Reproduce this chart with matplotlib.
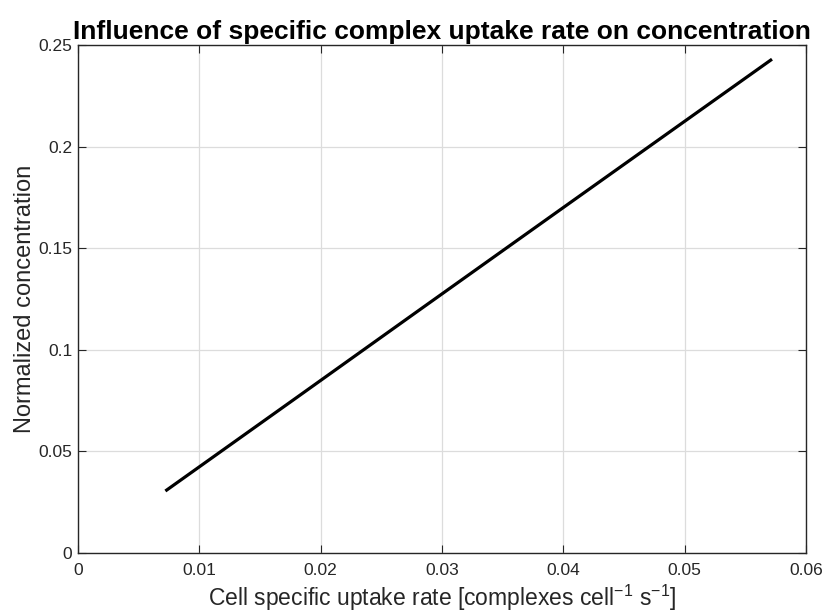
import matplotlib
matplotlib.use("Agg")
import matplotlib.pyplot as plt

# Cell specific uptake rate vs. normalized concentration
uptake_rate = [0.0072, 0.0180, 0.0280, 0.0400, 0.0572]
norm_conc = [0.0305, 0.0764, 0.1190, 0.1700, 0.2430]

x_ticks = [0, 0.01, 0.02, 0.03, 0.04, 0.05, 0.06]
x_tick_labels = ["0", "0.01", "0.02", "0.03", "0.04", "0.05", "0.06"]
y_ticks = [0, 0.05, 0.1, 0.15, 0.2, 0.25]
y_tick_labels = ["0", "0.05", "0.1", "0.15", "0.2", "0.25"]

plt.rcParams["font.family"] = ["Liberation Sans", "DejaVu Sans"]
plt.rcParams["mathtext.fontset"] = "custom"
plt.rcParams["mathtext.rm"] = "Liberation Sans"

fig = plt.figure(figsize=(8.22, 6.16), dpi=100)
ax = fig.add_axes([0.0949, 0.1023, 0.8856, 0.8247])

ax.plot(uptake_rate, norm_conc, color="black", linewidth=2.3, solid_capstyle="butt")

ax.set_xlim(0, 0.06)
ax.set_ylim(0, 0.25)
ax.set_xticks(x_ticks)
ax.set_xticklabels(x_tick_labels)
ax.set_yticks(y_ticks)
ax.set_yticklabels(y_tick_labels)

ax.grid(True, color="#dcdcdc", linewidth=0.9)
ax.set_axisbelow(True)
ax.tick_params(direction="in", top=True, right=True, length=6, width=0.8,
               labelsize=12.5, colors="#262626", labelcolor="#262626")
ax.tick_params(axis="x", pad=7.5)
ax.tick_params(axis="y", pad=4)
for s in ax.spines.values():
    s.set_color("#262626")
    s.set_linewidth(1.0)

ax.set_title("Influence of specific complex uptake rate on concentration",
             fontsize=19, fontweight="bold", pad=4)
ax.set_xlabel(r"Cell specific uptake rate [complexes cell$^{\mathrm{-1}}$ s$^{\mathrm{-1}}$]",
              fontsize=16.5, color="#262626", labelpad=3)
ax.set_ylabel("Normalized concentration", fontsize=17, color="#262626", labelpad=2)

fig.savefig("out.png", dpi=100)
